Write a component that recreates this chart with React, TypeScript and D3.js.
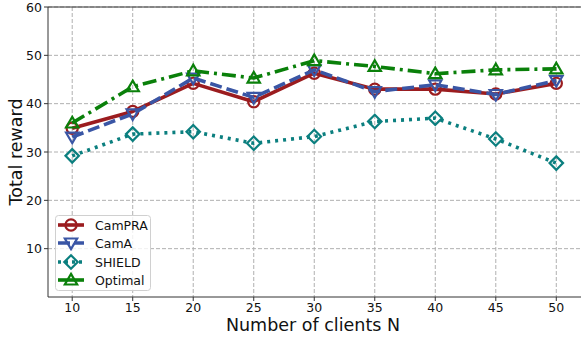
import React from "react";
import * as d3 from "d3";

const clients = [10, 15, 20, 25, 30, 35, 40, 45, 50];
const camPRA = [34.9, 38.4, 44.2, 40.4, 46.3, 43.0, 43.0, 42.0, 44.2];
const camA = [33.1, 37.9, 45.3, 41.3, 47.0, 42.5, 43.9, 41.9, 44.8];
const shield = [29.2, 33.7, 34.2, 31.8, 33.2, 36.3, 37.0, 32.7, 27.7];
const optimal = [36.0, 43.5, 46.8, 45.3, 48.9, 47.7, 46.2, 47.0, 47.2];
const xTicks = [10, 15, 20, 25, 30, 35, 40, 45, 50];
const yTicks = [10, 20, 30, 40, 50, 60];

const W = 581, H = 339;
const L = 48, T = 7, B = 297;

type Series = { name: string; values: number[]; color: string; dash: string; legendDash: string; marker: string };
const series: Series[] = [
  { name: "CamPRA", values: camPRA, color: "#9b1c1f", dash: "", legendDash: "", marker: "circle" },
  { name: "CamA", values: camA, color: "#3a56a5", dash: "12,5", legendDash: "12,4", marker: "tridown" },
  { name: "SHIELD", values: shield, color: "#0b7f7f", dash: "3,5", legendDash: "3,4", marker: "diamond" },
  { name: "Optimal", values: optimal, color: "#0a800a", dash: "14,5,3,5", legendDash: "", marker: "triup" },
];

function Marker({ type, x, y, color }: { type: string; x: number; y: number; color: string }) {
  const s = 5.6;
  const common = { fill: "none", stroke: color, strokeWidth: 2.2 };
  if (type === "circle") return <circle cx={x} cy={y} r={s} {...common} />;
  if (type === "diamond")
    return <path d={`M${x},${y - s * 1.2}L${x + s * 1.2},${y}L${x},${y + s * 1.2}L${x - s * 1.2},${y}Z`} {...common} />;
  if (type === "triup")
    return <path d={`M${x},${y - s * 1.1}L${x + s * 1.1},${y + s * 0.8}L${x - s * 1.1},${y + s * 0.8}Z`} {...common} />;
  return <path d={`M${x},${y + s * 1.1}L${x + s * 1.1},${y - s * 0.8}L${x - s * 1.1},${y - s * 0.8}Z`} {...common} />;
}

export default function App() {
  const x = d3.scaleLinear().domain([8, 52]).range([L, 580.5]);
  const y = d3.scaleLinear().domain([0, 60]).range([B, T]);
  const line = d3.line<[number, number]>().x((d) => x(d[0])).y((d) => y(d[1]));
  const font = "DejaVu Sans, sans-serif";
  const legendY = [225, 243, 262, 280];
  return (
    <svg width={W} height={H} style={{ position: "absolute", left: 0, top: 0 }} fontFamily={font}>
      <rect width={W} height={H} fill="white" />
      {xTicks.map((t) => (
        <line key={"gx" + t} x1={x(t)} x2={x(t)} y1={T} y2={B} stroke="#b0b0b0" strokeWidth={1} strokeDasharray="4,2" />
      ))}
      {yTicks.map((t) => (
        <line key={"gy" + t} x1={L} x2={W} y1={y(t)} y2={y(t)} stroke="#b0b0b0" strokeWidth={1} strokeDasharray="4,2" />
      ))}
      <line x1={L} x2={L} y1={T} y2={B} stroke="#333" strokeWidth={1} />
      <line x1={L} x2={W} y1={B} y2={B} stroke="#333" strokeWidth={1} />
      <line x1={L} x2={W} y1={T} y2={T} stroke="#333" strokeWidth={1} />
      {xTicks.map((t) => (
        <g key={"xt" + t}>
          <line x1={x(t)} x2={x(t)} y1={B} y2={B + 4} stroke="#333" />
          <text x={x(t)} y={B + 15} fontSize={12.5} textAnchor="middle" fill="#111">{t}</text>
        </g>
      ))}
      {yTicks.map((t) => (
        <g key={"yt" + t}>
          <line x1={L - 4} x2={L} y1={y(t)} y2={y(t)} stroke="#333" />
          <text x={L - 6} y={y(t) + 4.5} fontSize={12.5} textAnchor="end" fill="#111">{t}</text>
        </g>
      ))}
      <text x={313} y={331} fontSize={17.5} textAnchor="middle" fill="#111">Number of clients N</text>
      <text transform={`translate(22,${(T + B) / 2}) rotate(-90)`} fontSize={17.5} textAnchor="middle" fill="#111">Total reward</text>
      {series.map((s) => (
        <g key={s.name}>
          <path
            d={line(clients.map((c, i) => [c, s.values[i]]) as [number, number][]) || ""}
            fill="none"
            stroke={s.color}
            strokeWidth={3.6}
            strokeDasharray={s.dash}
            strokeLinejoin="round"
          />
          {clients.map((c, i) => (
            <Marker key={i} type={s.marker} x={x(c)} y={y(s.values[i])} color={s.color} />
          ))}
        </g>
      ))}
      <rect x={55.5} y={215.5} width={95} height={75} rx={3} fill="white" fillOpacity={0.8} stroke="#d0d0d0" />
      {series.map((s, i) => (
        <g key={"lg" + s.name}>
          <line x1={58} x2={84} y1={legendY[i]} y2={legendY[i]} stroke={s.color} strokeWidth={3.6} strokeDasharray={s.legendDash} />
          <Marker type={s.marker} x={71} y={legendY[i]} color={s.color} />
          <text x={95} y={legendY[i] + 4.5} fontSize={12.5} fill="#111">{s.name}</text>
        </g>
      ))}
    </svg>
  );
}
